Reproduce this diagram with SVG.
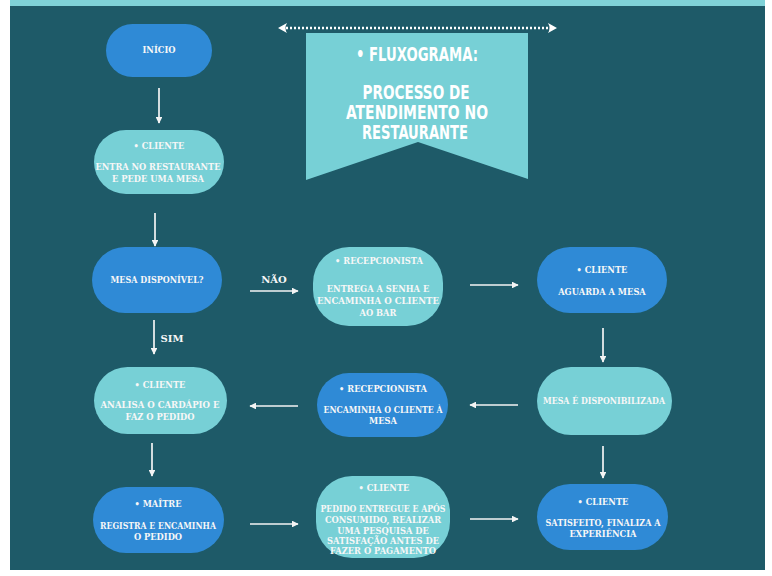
<svg xmlns="http://www.w3.org/2000/svg" width="772" height="576" viewBox="0 0 772 576">
  <defs>
    <marker id="head" viewBox="0 0 10 10" refX="9" refY="5" markerWidth="4" markerHeight="4" orient="auto" markerUnits="strokeWidth">
      <path d="M0,0 L10,5 L0,10 Z" fill="#f4f4f4"/>
    </marker>
  </defs>
  <style>
    .blue { fill: #2f8ad6; }
    .teal { fill: #77d0d6; }
    .t { font-family: "DejaVu Serif", "Liberation Serif", serif; font-weight: bold; font-size: 8.3px; fill: #f7f7f7; text-anchor: middle; }
    .title { font-family: "DejaVu Sans", "Liberation Sans", sans-serif; font-weight: bold; font-stretch: condensed; font-size: 19px; fill: #ffffff; text-anchor: middle; }
    .lbl { font-family: "DejaVu Serif", "Liberation Serif", serif; font-weight: bold; font-size: 10px; fill: #f7f7f7; text-anchor: middle; }
    .conn line { stroke: #f4f4f4; stroke-width: 1.7; fill: none; marker-end: url(#head); }
  </style>

  <!-- page background -->
  <rect x="0" y="0" width="772" height="576" fill="#ffffff"/>
  <rect x="10" y="5" width="755" height="565" fill="#1e5a68"/>
  <rect x="10" y="0" width="755" height="6" fill="#7fd2d8"/>

  <!-- title banner -->
  <g id="title">
    <path d="M306,33 H528 V179 L418,142 L306,180 Z" fill="#77d0d6"/>
    <line x1="286" y1="28" x2="549" y2="28" stroke="#ffffff" stroke-width="2.6" stroke-dasharray="2 2"/>
    <path d="M278,28 L287,23 Q284,28 287,33 Z" fill="#ffffff"/>
    <path d="M557,28 L548,23 Q551,28 548,33 Z" fill="#ffffff"/>
    <text class="title" x="417" y="61" textLength="122" lengthAdjust="spacingAndGlyphs">• FLUXOGRAMA:</text>
    <text class="title" x="416" y="99" textLength="107" lengthAdjust="spacingAndGlyphs">PROCESSO DE</text>
    <text class="title" x="417" y="119" textLength="142" lengthAdjust="spacingAndGlyphs">ATENDIMENTO NO</text>
    <text class="title" x="415" y="139" textLength="106" lengthAdjust="spacingAndGlyphs">RESTAURANTE</text>
  </g>

  <g id="inicio">
    <rect class="blue" x="106" y="24" width="106" height="53" rx="26.5"/>
    <text class="t" x="159" y="53">INÍCIO</text>
  </g>

  <g id="cliente-entra">
    <rect class="teal" x="94" y="130" width="130" height="64" rx="32"/>
    <text class="t" x="159" y="149">• CLIENTE</text>
    <text class="t" x="158" y="170" textLength="125" lengthAdjust="spacingAndGlyphs">ENTRA NO RESTAURANTE</text>
    <text class="t" x="158" y="182">E PEDE UMA MESA</text>
  </g>

  <g id="mesa-disponivel">
    <rect class="blue" x="92" y="247" width="130" height="66" rx="33"/>
    <text class="t" x="157" y="283" textLength="93" lengthAdjust="spacingAndGlyphs">MESA DISPONÍVEL?</text>
  </g>

  <g id="recepcionista-bar">
    <rect class="teal" x="313" y="247" width="130" height="79" rx="36"/>
    <text class="t" x="379" y="264">• RECEPCIONISTA</text>
    <text class="t" x="378" y="292">ENTREGA A SENHA E</text>
    <text class="t" x="378" y="304" textLength="122" lengthAdjust="spacingAndGlyphs">ENCAMINHA O CLIENTE</text>
    <text class="t" x="378" y="316">AO BAR</text>
  </g>

  <g id="cliente-aguarda">
    <rect class="blue" x="537" y="247" width="130" height="66" rx="33"/>
    <text class="t" x="602" y="273">• CLIENTE</text>
    <text class="t" x="602" y="295">AGUARDA A MESA</text>
  </g>

  <g id="mesa-disponibilizada">
    <rect class="teal" x="537" y="367" width="135" height="68" rx="34"/>
    <text class="t" x="604" y="404" textLength="122" lengthAdjust="spacingAndGlyphs">MESA É DISPONIBILIZADA</text>
  </g>

  <g id="recepcionista-mesa">
    <rect class="blue" x="317" y="373" width="131" height="64" rx="32"/>
    <text class="t" x="383" y="392">• RECEPCIONISTA</text>
    <text class="t" x="383" y="413" textLength="119" lengthAdjust="spacingAndGlyphs">ENCAMINHA O CLIENTE À</text>
    <text class="t" x="383" y="424">MESA</text>
  </g>

  <g id="cliente-analisa">
    <rect class="teal" x="94" y="367" width="133" height="67" rx="33.5"/>
    <text class="t" x="160" y="388">• CLIENTE</text>
    <text class="t" x="160" y="408" textLength="119" lengthAdjust="spacingAndGlyphs">ANALISA O CARDÁPIO E</text>
    <text class="t" x="160" y="420">FAZ O PEDIDO</text>
  </g>

  <g id="maitre">
    <rect class="blue" x="93" y="487" width="131" height="66" rx="33"/>
    <text class="t" x="158" y="507">• MAÎTRE</text>
    <text class="t" x="158" y="529" textLength="116" lengthAdjust="spacingAndGlyphs">REGISTRA E ENCAMINHA</text>
    <text class="t" x="158" y="540">O PEDIDO</text>
  </g>

  <g id="cliente-pedido">
    <rect class="teal" x="316" y="476" width="134" height="82" rx="36"/>
    <text class="t" x="384" y="491">• CLIENTE</text>
    <text class="t" x="383" y="512" textLength="125" lengthAdjust="spacingAndGlyphs">PEDIDO ENTREGUE E APÓS</text>
    <text class="t" x="383" y="523">CONSUMIDO, REALIZAR</text>
    <text class="t" x="383" y="534">UMA PESQUISA DE</text>
    <text class="t" x="383" y="544">SATISFAÇÃO ANTES DE</text>
    <text class="t" x="383" y="554">FAZER O PAGAMENTO</text>
  </g>

  <g id="cliente-satisfeito">
    <rect class="blue" x="537" y="484" width="131" height="66" rx="33"/>
    <text class="t" x="603" y="505">• CLIENTE</text>
    <text class="t" x="603" y="526" textLength="115" lengthAdjust="spacingAndGlyphs">SATISFEITO, FINALIZA A</text>
    <text class="t" x="603" y="537">EXPERIÊNCIA</text>
  </g>

  <!-- connectors -->
  <g id="connectors" class="conn">
    <line x1="159" y1="88" x2="159" y2="123"/>
    <line x1="155" y1="213" x2="155" y2="246"/>
    <line x1="250" y1="291" x2="298" y2="291"/>
    <line x1="470" y1="285" x2="518" y2="285"/>
    <line x1="603" y1="328" x2="603" y2="362"/>
    <line x1="518" y1="405" x2="470" y2="405"/>
    <line x1="298" y1="406" x2="250" y2="406"/>
    <line x1="154" y1="320" x2="154" y2="354"/>
    <line x1="152" y1="443" x2="152" y2="476"/>
    <line x1="250" y1="524" x2="298" y2="524"/>
    <line x1="470" y1="519" x2="518" y2="519"/>
    <line x1="603" y1="446" x2="603" y2="478"/>
  </g>
  <g id="labels">
    <text class="lbl" x="274" y="283">NÃO</text>
    <text class="lbl" x="172" y="342">SIM</text>
  </g>
</svg>
